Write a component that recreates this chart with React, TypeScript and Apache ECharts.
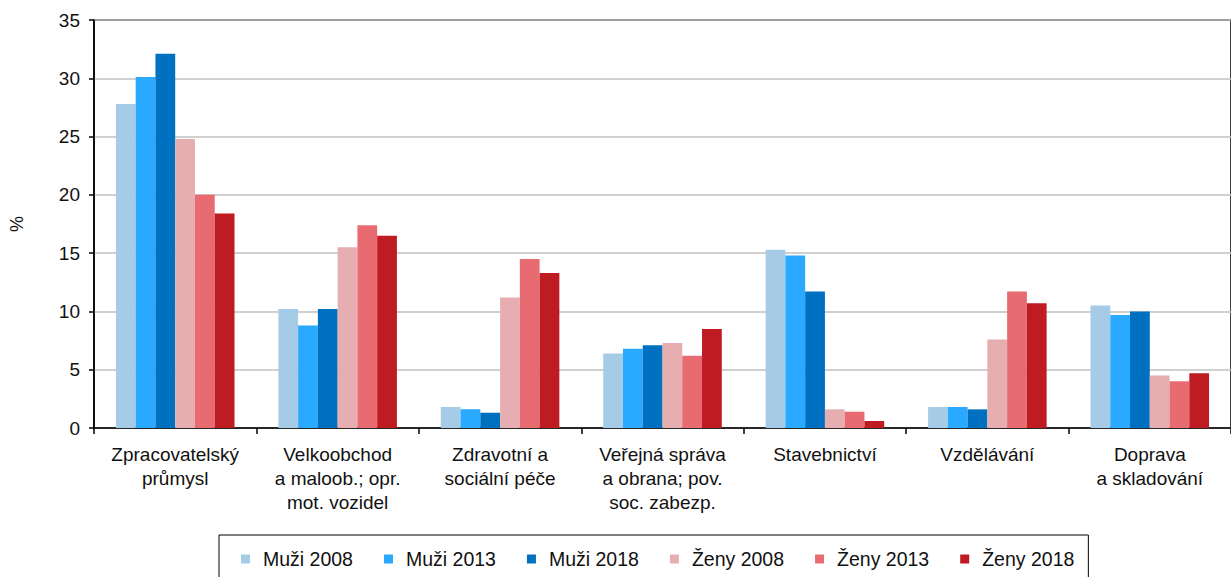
import React, { useEffect, useRef } from "react";
import * as echarts from "echarts";

const categories = [
  "Zpracovatelský\nprůmysl",
  "Velkoobchod\na maloob.; opr.\nmot. vozidel",
  "Zdravotní a\nsociální péče",
  "Veřejná správa\na obrana; pov.\nsoc. zabezp.",
  "Stavebnictví",
  "Vzdělávání",
  "Doprava\na skladování",
];

const seriesNames = ["Muži 2008", "Muži 2013", "Muži 2018", "Ženy 2008", "Ženy 2013", "Ženy 2018"];
const seriesColors = ["#a6cbe6", "#29a9ff", "#0070c0", "#e6aeb0", "#e96b72", "#bf1b22"];

const muzi2008 = [27.8, 10.2, 1.8, 6.4, 15.3, 1.8, 10.5];
const muzi2013 = [30.1, 8.8, 1.6, 6.8, 14.8, 1.8, 9.7];
const muzi2018 = [32.1, 10.2, 1.3, 7.1, 11.7, 1.6, 10.0];
const zeny2008 = [24.8, 15.5, 11.2, 7.3, 1.6, 7.6, 4.5];
const zeny2013 = [20.0, 17.4, 14.5, 6.2, 1.4, 11.7, 4.0];
const zeny2018 = [18.4, 16.5, 13.3, 8.5, 0.6, 10.7, 4.7];

const seriesData = [muzi2008, muzi2013, muzi2018, zeny2008, zeny2013, zeny2018];

const FONT = "'Liberation Sans', Arial, sans-serif";

export default function App() {
  const ref = useRef<HTMLDivElement>(null);

  useEffect(() => {
    if (!ref.current) return;
    const chart = echarts.init(ref.current, undefined, { renderer: "svg" });
    chart.setOption({
      animation: false,
      textStyle: { fontFamily: FONT, color: "#111" },
      grid: {
        left: 89,
        top: 20,
        right: -8,
        bottom: 149,
        show: true,
        borderColor: "#000",
        borderWidth: 1.5,
        containLabel: false,
      },
      legend: {
        left: 219,
        top: 535,
        orient: "horizontal",
        borderColor: "#000",
        borderWidth: 1,
        padding: [14, 14, 14, 22],
        itemWidth: 9,
        itemHeight: 9,
        itemGap: 31,
        icon: "rect",
        data: seriesNames,
        formatter: (name: string) => `{a|${name}}`,
        textStyle: {
          fontFamily: FONT,
          fontSize: 19.5,
          color: "#111",
          rich: {
            a: { fontFamily: FONT, fontSize: 19.5, color: "#111", padding: [0, 0, 0, 8] },
          },
        },
      },
      xAxis: {
        type: "category",
        data: categories,
        axisLine: { show: true, lineStyle: { color: "#000", width: 1.5 } },
        axisTick: { show: true, length: 6, lineStyle: { color: "#000", width: 1.5 } },
        axisLabel: {
          interval: 0,
          fontFamily: FONT,
          fontSize: 19,
          lineHeight: 24,
          color: "#111",
          margin: 14,
        },
        splitLine: { show: false },
      },
      yAxis: {
        type: "value",
        min: 0,
        max: 35,
        interval: 5,
        name: "%",
        nameLocation: "middle",
        nameGap: 68,
        nameRotate: 90,
        nameTextStyle: { fontFamily: FONT, fontSize: 18, color: "#111" },
        axisLine: { show: true, lineStyle: { color: "#000", width: 1.5 } },
        axisTick: { show: true, length: 5, lineStyle: { color: "#000", width: 1.5 } },
        axisLabel: { fontFamily: FONT, fontSize: 19, color: "#111", margin: 14 },
        splitLine: { show: true, lineStyle: { color: "#c0c0c0", width: 1.5 } },
      },
      series: seriesNames.map((name, i) => ({
        name,
        type: "bar",
        data: seriesData[i],
        barGap: "0%",
        barCategoryGap: "27%",
        itemStyle: { color: seriesColors[i] },
      })),
    });
    return () => chart.dispose();
  }, []);

  return (
    <div
      ref={ref}
      style={{ position: "absolute", left: 0, top: 0, width: 1231, height: 577 }}
    />
  );
}
